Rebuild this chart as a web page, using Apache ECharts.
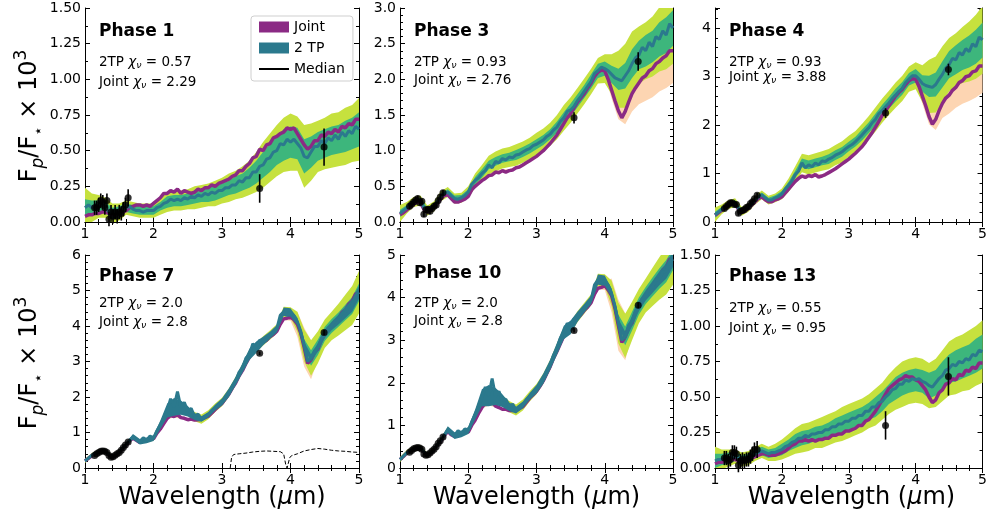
<!DOCTYPE html>
<html>
<head>
<meta charset="utf-8">
<script src="https://cdn.jsdelivr.net/npm/echarts@6/dist/echarts.min.js"></script>
<style>
  html, body { margin: 0; padding: 0; background: #fff; }
  #chart { width: 990px; height: 517px; }
</style>
</head>
<body>
<div id="chart"></div>
<script>
// fine wavelength grid for medians (micron), step 0.05
const wlFine = [1.00,1.05,1.10,1.15,1.20,1.25,1.30,1.35,1.40,1.45,1.50,1.55,1.60,1.65,1.70,1.75,1.80,1.85,1.90,1.95,
  2.00,2.05,2.10,2.15,2.20,2.25,2.30,2.35,2.40,2.45,2.50,2.55,2.60,2.65,2.70,2.75,2.80,2.85,2.90,2.95,
  3.00,3.05,3.10,3.15,3.20,3.25,3.30,3.35,3.40,3.45,3.50,3.55,3.60,3.65,3.70,3.75,3.80,3.85,3.90,3.95,
  4.00,4.05,4.10,4.15,4.20,4.25,4.30,4.35,4.40,4.45,4.50,4.55,4.60,4.65,4.70,4.75,4.80,4.85,4.90,4.95,5.00];
// coarse grid for the credible-interval half widths, step 0.1
const wl = [1.0,1.1,1.2,1.3,1.4,1.5,1.6,1.7,1.8,1.9,
  2.0,2.1,2.2,2.3,2.4,2.5,2.6,2.7,2.8,2.9,
  3.0,3.1,3.2,3.3,3.4,3.5,3.6,3.7,3.8,3.9,
  4.0,4.1,4.2,4.3,4.4,4.5,4.6,4.7,4.8,4.9,
  5.0];

// Phase 1
const tp1 = [0.10,0.12,0.10,0.12,0.11,0.13,0.10,0.07,0.06,0.06,0.07,0.08,0.10,0.11,0.09,0.08,0.08,0.07,0.08,0.08,
  0.08,0.10,0.11,0.13,0.14,0.16,0.15,0.16,0.15,0.17,0.16,0.18,0.17,0.19,0.18,0.20,0.19,0.21,0.20,0.22,
  0.22,0.24,0.24,0.26,0.26,0.29,0.28,0.31,0.31,0.35,0.35,0.39,0.40,0.44,0.45,0.49,0.50,0.55,0.54,0.58,
  0.56,0.58,0.55,0.52,0.46,0.45,0.49,0.53,0.53,0.57,0.55,0.59,0.57,0.61,0.58,0.63,0.60,0.64,0.62,0.67,0.65];
const jt1 = [0.04,0.05,0.05,0.06,0.06,0.07,0.07,0.06,0.05,0.05,0.06,0.07,0.08,0.10,0.11,0.12,0.12,0.11,0.12,0.11,
  0.13,0.15,0.17,0.20,0.20,0.22,0.21,0.23,0.20,0.22,0.21,0.20,0.21,0.23,0.22,0.24,0.24,0.26,0.25,0.27,
  0.28,0.29,0.30,0.32,0.33,0.36,0.36,0.39,0.41,0.45,0.46,0.51,0.50,0.54,0.55,0.59,0.60,0.62,0.63,0.66,
  0.65,0.66,0.62,0.58,0.54,0.51,0.53,0.57,0.57,0.61,0.60,0.63,0.62,0.65,0.63,0.67,0.66,0.69,0.68,0.72,0.72];
const g1 = [0.06,0.05,0.04,0.04,0.04,0.04,0.03,0.03,0.03,0.03,
  0.03,0.03,0.04,0.04,0.04,0.04,0.04,0.04,0.05,0.05,
  0.05,0.05,0.06,0.06,0.07,0.08,0.09,0.10,0.10,0.11,
  0.11,0.11,0.12,0.11,0.10,0.10,0.10,0.10,0.11,0.11,
  0.12];
const y1 = [0.14,0.10,0.08,0.07,0.07,0.06,0.05,0.05,0.05,0.05,
  0.05,0.06,0.07,0.07,0.07,0.07,0.08,0.08,0.08,0.09,
  0.09,0.10,0.10,0.11,0.12,0.14,0.16,0.17,0.18,0.19,
  0.20,0.19,0.22,0.20,0.18,0.18,0.19,0.19,0.20,0.20,
  0.22];

// Phase 3
const tp3 = [0.12,0.16,0.20,0.24,0.28,0.31,0.30,0.20,0.16,0.18,0.22,0.28,0.36,0.40,0.42,0.37,0.33,0.32,0.34,0.37,
  0.42,0.53,0.58,0.62,0.68,0.72,0.80,0.76,0.85,0.83,0.89,0.87,0.91,0.90,0.94,0.95,0.98,1.01,1.03,1.07,
  1.09,1.12,1.15,1.20,1.23,1.29,1.33,1.41,1.46,1.55,1.57,1.62,1.70,1.76,1.83,1.90,1.97,2.08,2.12,2.17,
  2.15,2.12,2.07,2.02,2.00,1.98,2.05,2.12,2.22,2.30,2.34,2.45,2.40,2.52,2.46,2.60,2.56,2.68,2.62,2.78,2.72];
const jt3 = [0.10,0.13,0.17,0.21,0.25,0.28,0.27,0.18,0.14,0.16,0.20,0.26,0.33,0.37,0.38,0.33,0.28,0.28,0.30,0.32,
  0.36,0.45,0.50,0.54,0.58,0.61,0.65,0.66,0.70,0.69,0.72,0.70,0.72,0.73,0.76,0.77,0.80,0.83,0.86,0.89,
  0.92,0.96,1.00,1.05,1.10,1.16,1.22,1.30,1.38,1.46,1.52,1.60,1.68,1.74,1.80,1.88,1.95,2.04,2.10,2.13,
  2.12,2.00,1.85,1.70,1.56,1.46,1.55,1.68,1.80,1.88,1.95,2.02,2.05,2.12,2.15,2.22,2.25,2.30,2.33,2.40,2.40];
const g3 = [0.05,0.04,0.04,0.04,0.04,0.04,0.04,0.04,0.04,0.04,
  0.04,0.05,0.06,0.06,0.06,0.06,0.06,0.07,0.07,0.07,
  0.07,0.07,0.07,0.08,0.08,0.09,0.09,0.09,0.10,0.10,
  0.10,0.12,0.15,0.18,0.20,0.20,0.22,0.22,0.24,0.25,
  0.25];
const y3 = [0.12,0.08,0.07,0.07,0.07,0.07,0.07,0.07,0.07,0.07,
  0.08,0.10,0.12,0.13,0.14,0.14,0.14,0.15,0.15,0.15,
  0.16,0.16,0.16,0.17,0.18,0.18,0.18,0.18,0.18,0.18,
  0.20,0.28,0.40,0.45,0.45,0.40,0.40,0.42,0.45,0.48,
  0.50];
const jo3 = [0.02,0.02,0.02,0.02,0.02,0.02,0.02,0.02,0.02,0.02,
  0.02,0.02,0.02,0.02,0.02,0.02,0.02,0.02,0.02,0.02,
  0.02,0.02,0.02,0.02,0.02,0.02,0.02,0.02,0.02,0.02,
  0.05,0.12,0.12,0.18,0.25,0.30,0.35,0.40,0.42,0.45,
  0.45];

// Phase 4
const tp4 = [0.15,0.20,0.26,0.31,0.36,0.40,0.40,0.28,0.22,0.25,0.30,0.37,0.45,0.52,0.56,0.50,0.45,0.46,0.50,0.53,
  0.58,0.68,0.76,0.85,0.98,1.05,1.22,1.12,1.18,1.14,1.22,1.18,1.26,1.25,1.30,1.33,1.38,1.41,1.45,1.51,
  1.56,1.60,1.66,1.73,1.80,1.88,1.95,2.05,2.12,2.24,2.30,2.38,2.46,2.55,2.62,2.70,2.76,2.88,2.95,3.02,
  3.02,2.95,2.86,2.82,2.80,2.78,2.84,2.95,3.05,3.18,3.25,3.38,3.35,3.50,3.45,3.58,3.52,3.68,3.62,3.82,3.76];
const jt4 = [0.14,0.19,0.24,0.29,0.34,0.38,0.38,0.26,0.20,0.23,0.28,0.35,0.42,0.49,0.52,0.46,0.42,0.42,0.46,0.48,
  0.52,0.60,0.68,0.76,0.84,0.90,0.95,0.92,0.96,0.94,0.98,0.93,0.95,0.98,1.02,1.06,1.10,1.15,1.20,1.25,
  1.30,1.36,1.42,1.49,1.56,1.65,1.75,1.85,1.96,2.08,2.20,2.30,2.40,2.50,2.60,2.68,2.74,2.84,2.92,2.96,
  2.95,2.80,2.60,2.40,2.18,2.02,2.12,2.30,2.45,2.56,2.62,2.72,2.78,2.88,2.92,3.00,3.02,3.10,3.12,3.22,3.22];
const g4 = [0.06,0.05,0.05,0.05,0.05,0.05,0.05,0.05,0.05,0.05,
  0.06,0.07,0.08,0.09,0.09,0.09,0.09,0.10,0.10,0.10,
  0.10,0.10,0.11,0.11,0.12,0.12,0.12,0.13,0.13,0.13,
  0.14,0.17,0.22,0.25,0.27,0.28,0.30,0.31,0.33,0.35,
  0.36];
const y4 = [0.15,0.10,0.09,0.09,0.09,0.09,0.09,0.09,0.09,0.09,
  0.11,0.14,0.17,0.19,0.20,0.20,0.20,0.21,0.21,0.22,
  0.22,0.22,0.23,0.24,0.25,0.25,0.25,0.26,0.26,0.26,
  0.28,0.38,0.55,0.58,0.58,0.55,0.55,0.58,0.62,0.66,
  0.70];
const jo4 = [0.03,0.03,0.03,0.03,0.03,0.03,0.03,0.03,0.03,0.03,
  0.03,0.03,0.03,0.03,0.03,0.03,0.03,0.03,0.03,0.03,
  0.03,0.03,0.03,0.03,0.03,0.03,0.03,0.03,0.03,0.03,
  0.06,0.16,0.16,0.22,0.30,0.38,0.42,0.48,0.52,0.55,
  0.55];

// Phase 7
const tp7 = [0.20,0.28,0.36,0.42,0.46,0.49,0.48,0.38,0.30,0.36,0.45,0.56,0.66,0.78,0.88,0.80,0.74,0.85,0.78,0.90,
  0.84,1.05,1.22,1.40,1.62,1.95,1.72,2.15,1.70,1.85,1.60,1.68,1.45,1.52,1.38,1.45,1.50,1.62,1.70,1.80,
  1.86,2.00,2.12,2.30,2.45,2.70,2.82,3.10,3.20,3.50,3.40,3.60,3.58,3.62,3.74,3.80,3.92,4.30,4.40,4.30,
  4.38,4.30,4.12,3.85,3.45,3.00,3.10,3.30,3.40,3.65,3.78,3.95,4.00,4.15,4.18,4.35,4.38,4.55,4.58,4.85,4.95];
const jt7 = [0.20,0.27,0.35,0.41,0.45,0.48,0.47,0.37,0.30,0.35,0.44,0.55,0.64,0.76,0.84,0.78,0.72,0.80,0.76,0.86,
  0.82,0.98,1.10,1.25,1.40,1.48,1.45,1.50,1.42,1.40,1.36,1.38,1.35,1.36,1.38,1.42,1.46,1.55,1.65,1.74,
  1.82,1.95,2.08,2.25,2.40,2.60,2.75,2.95,3.12,3.30,3.36,3.48,3.54,3.60,3.70,3.76,3.85,4.05,4.20,4.22,
  4.25,4.18,4.05,3.80,3.40,2.95,3.05,3.25,3.35,3.60,3.75,3.90,3.98,4.12,4.20,4.38,4.45,4.62,4.70,4.90,4.95];
const g7 = [0.04,0.04,0.04,0.04,0.04,0.04,0.04,0.04,0.04,0.04,
  0.04,0.05,0.06,0.06,0.06,0.06,0.06,0.06,0.06,0.06,
  0.06,0.06,0.06,0.06,0.07,0.07,0.07,0.07,0.07,0.07,
  0.08,0.12,0.18,0.22,0.22,0.20,0.20,0.20,0.22,0.24,
  0.25];
const y7 = [0.06,0.06,0.06,0.06,0.06,0.06,0.06,0.06,0.06,0.06,
  0.07,0.09,0.12,0.12,0.12,0.12,0.13,0.13,0.13,0.12,
  0.12,0.12,0.12,0.12,0.13,0.13,0.13,0.13,0.13,0.14,
  0.15,0.28,0.45,0.50,0.45,0.40,0.40,0.45,0.50,0.55,
  0.60];
const jo7 = [0.03,0.03,0.03,0.03,0.03,0.03,0.03,0.03,0.03,0.03,
  0.03,0.03,0.03,0.03,0.03,0.03,0.03,0.03,0.03,0.03,
  0.03,0.03,0.03,0.03,0.03,0.03,0.03,0.03,0.03,0.03,
  0.10,0.35,0.55,0.55,0.30,0.20,0.20,0.20,0.20,0.20,
  0.20];
// spread of the noisy 2TP median spectrum
const tn7 = [0.03,0.03,0.03,0.03,0.03,0.03,0.04,0.08,0.08,0.08,
  0.08,0.12,0.20,0.25,0.20,0.15,0.10,0.08,0.08,0.08,
  0.10,0.12,0.12,0.14,0.16,0.16,0.12,0.10,0.10,0.12,
  0.12,0.10,0.10,0.10,0.12,0.12,0.12,0.14,0.16,0.18,
  0.18];
const dashX = [3.12,3.14,3.17,3.25,3.35,3.45,3.55,3.65,3.75,3.85,3.90,3.93,3.95,3.97,3.99,4.02,4.10,4.20,4.30,4.40,4.50,4.60,4.70,4.80,4.90,5.00];
const dashY = [0.00,0.30,0.38,0.40,0.42,0.45,0.47,0.48,0.47,0.46,0.40,0.10,0.00,0.05,0.30,0.35,0.40,0.48,0.52,0.55,0.53,0.50,0.48,0.47,0.45,0.44];

// Phase 10
const tp10 = [0.20,0.28,0.36,0.41,0.45,0.48,0.48,0.38,0.30,0.35,0.44,0.55,0.65,0.78,0.90,0.80,0.76,0.88,0.80,0.92,
  0.88,1.08,1.25,1.45,1.65,1.90,1.70,2.10,1.68,1.80,1.58,1.62,1.44,1.50,1.36,1.42,1.48,1.60,1.68,1.78,
  1.85,1.98,2.10,2.28,2.42,2.65,2.80,3.05,3.18,3.40,3.30,3.50,3.55,3.65,3.75,3.85,3.95,4.30,4.42,4.35,
  4.40,4.30,4.10,3.80,3.40,3.00,3.10,3.35,3.45,3.70,3.80,3.98,4.05,4.20,4.25,4.40,4.45,4.60,4.62,4.85,4.90];
const jt10 = [0.20,0.27,0.35,0.40,0.44,0.47,0.47,0.37,0.30,0.34,0.43,0.54,0.63,0.76,0.86,0.78,0.74,0.82,0.80,0.86,
  0.84,1.00,1.12,1.28,1.42,1.52,1.50,1.55,1.45,1.42,1.38,1.38,1.35,1.35,1.36,1.40,1.44,1.54,1.64,1.72,
  1.80,1.92,2.05,2.22,2.38,2.58,2.74,2.92,3.10,3.24,3.28,3.42,3.52,3.60,3.70,3.78,3.88,4.08,4.22,4.24,
  4.28,4.18,4.05,3.75,3.35,2.95,3.08,3.30,3.40,3.65,3.78,3.95,4.02,4.18,4.25,4.42,4.50,4.65,4.72,4.90,4.92];
const g10 = [0.04,0.04,0.04,0.04,0.04,0.04,0.04,0.04,0.04,0.04,
  0.04,0.05,0.06,0.06,0.06,0.06,0.06,0.06,0.06,0.06,
  0.06,0.06,0.06,0.06,0.07,0.07,0.07,0.07,0.07,0.07,
  0.08,0.12,0.20,0.22,0.22,0.20,0.20,0.22,0.24,0.26,
  0.26];
const y10 = [0.06,0.06,0.06,0.06,0.06,0.06,0.06,0.06,0.06,0.06,
  0.07,0.09,0.12,0.12,0.12,0.12,0.13,0.13,0.13,0.12,
  0.12,0.12,0.12,0.12,0.13,0.13,0.13,0.13,0.13,0.14,
  0.15,0.30,0.48,0.52,0.45,0.40,0.40,0.45,0.50,0.55,
  0.60];
const jo10 = [0.03,0.03,0.03,0.03,0.03,0.03,0.03,0.03,0.03,0.03,
  0.03,0.03,0.03,0.03,0.03,0.03,0.03,0.03,0.03,0.03,
  0.03,0.03,0.03,0.03,0.03,0.03,0.03,0.03,0.03,0.03,
  0.10,0.40,0.60,0.55,0.30,0.20,0.20,0.20,0.20,0.20,
  0.20];
const tn10 = [0.03,0.03,0.03,0.03,0.03,0.03,0.04,0.08,0.08,0.08,
  0.08,0.12,0.20,0.25,0.20,0.15,0.10,0.08,0.08,0.08,
  0.10,0.12,0.12,0.14,0.16,0.16,0.12,0.10,0.10,0.12,
  0.12,0.10,0.10,0.10,0.12,0.12,0.12,0.14,0.16,0.18,
  0.18];

// Phase 13
const tp13 = [0.05,0.06,0.06,0.07,0.07,0.08,0.08,0.07,0.06,0.06,0.07,0.08,0.10,0.11,0.12,0.11,0.10,0.11,0.11,0.12,
  0.13,0.15,0.16,0.18,0.19,0.21,0.21,0.23,0.22,0.24,0.24,0.25,0.25,0.27,0.27,0.29,0.29,0.31,0.31,0.33,
  0.33,0.35,0.35,0.37,0.37,0.40,0.40,0.43,0.43,0.46,0.47,0.50,0.52,0.55,0.56,0.59,0.59,0.62,0.61,0.63,
  0.62,0.63,0.61,0.60,0.58,0.57,0.60,0.63,0.65,0.69,0.70,0.73,0.72,0.75,0.74,0.77,0.76,0.80,0.79,0.83,0.82];
const jt13 = [0.03,0.04,0.04,0.05,0.05,0.06,0.06,0.05,0.05,0.05,0.06,0.07,0.08,0.09,0.10,0.10,0.09,0.09,0.09,0.10,
  0.11,0.12,0.14,0.16,0.17,0.19,0.19,0.20,0.19,0.20,0.19,0.20,0.20,0.21,0.21,0.23,0.23,0.24,0.24,0.26,
  0.26,0.27,0.28,0.30,0.30,0.33,0.34,0.37,0.40,0.44,0.48,0.52,0.56,0.58,0.60,0.62,0.63,0.65,0.64,0.64,
  0.62,0.61,0.58,0.55,0.50,0.46,0.48,0.53,0.55,0.59,0.60,0.63,0.62,0.66,0.65,0.69,0.68,0.71,0.70,0.74,0.74];
const g13 = [0.05,0.04,0.04,0.03,0.03,0.03,0.03,0.03,0.03,0.03,
  0.04,0.04,0.05,0.05,0.05,0.05,0.05,0.05,0.06,0.06,
  0.06,0.06,0.06,0.06,0.07,0.07,0.07,0.08,0.08,0.08,
  0.08,0.08,0.09,0.09,0.10,0.10,0.11,0.11,0.11,0.12,
  0.12];
const y13 = [0.10,0.07,0.06,0.05,0.05,0.05,0.05,0.05,0.05,0.06,
  0.07,0.08,0.09,0.10,0.10,0.10,0.11,0.11,0.11,0.12,
  0.12,0.12,0.12,0.12,0.13,0.13,0.14,0.15,0.16,0.16,
  0.16,0.16,0.16,0.17,0.18,0.19,0.20,0.20,0.21,0.21,
  0.22];

// observed eclipse depths
const wfcX = [1.14,1.17,1.20,1.23,1.26,1.29,1.32,1.35,1.38,1.41,1.44,1.47,1.50,1.53,1.56,1.59,1.63];
const spzX = [3.55,4.49];
const obs1 = [0.10,0.10,0.12,0.15,0.14,0.10,0.15,0.02,0.07,0.04,0.07,0.04,0.07,0.06,0.09,0.12,0.17];
const err1 = [0.05,0.05,0.05,0.05,0.05,0.05,0.05,0.05,0.05,0.05,0.05,0.05,0.05,0.05,0.05,0.05,0.06];
const spz1 = [0.235,0.525], spzErr1 = [0.10,0.13];
const obs3 = [0.22,0.25,0.28,0.31,0.33,0.27,0.29,0.11,0.17,0.18,0.15,0.19,0.22,0.24,0.30,0.35,0.41];
const err3 = [0.04,0.04,0.04,0.04,0.04,0.04,0.04,0.04,0.04,0.04,0.04,0.04,0.04,0.04,0.04,0.04,0.04];
const spz3 = [1.46,2.25], spzErr3 = [0.08,0.13];
const obs4 = [0.28,0.32,0.36,0.40,0.40,0.36,0.36,0.18,0.22,0.24,0.26,0.30,0.32,0.38,0.42,0.48,0.55];
const err4 = [0.05,0.05,0.05,0.05,0.05,0.05,0.05,0.05,0.05,0.05,0.05,0.05,0.05,0.05,0.05,0.05,0.05];
const spz4 = [2.25,3.15], spzErr4 = [0.10,0.12];
const obs7 = [0.35,0.40,0.44,0.47,0.48,0.47,0.44,0.35,0.30,0.32,0.36,0.40,0.44,0.50,0.58,0.65,0.73];
const err7 = [0.03,0.03,0.03,0.03,0.03,0.03,0.03,0.03,0.03,0.03,0.03,0.03,0.03,0.03,0.03,0.03,0.03];
const spz7 = [3.23,3.82], spzErr7 = [0.05,0.07];
const obs10 = [0.37,0.41,0.45,0.47,0.48,0.47,0.44,0.33,0.30,0.31,0.35,0.40,0.44,0.50,0.58,0.64,0.73];
const err10 = [0.03,0.03,0.03,0.03,0.03,0.03,0.03,0.03,0.03,0.03,0.03,0.03,0.03,0.03,0.03,0.03,0.03];
const spz10 = [3.23,3.82], spzErr10 = [0.05,0.07];
const obs13 = [0.07,0.07,0.05,0.06,0.11,0.11,0.10,0.02,0.05,0.06,0.05,0.06,0.06,0.08,0.10,0.13,0.13];
const err13 = [0.05,0.05,0.05,0.05,0.05,0.05,0.05,0.05,0.05,0.05,0.05,0.05,0.05,0.05,0.05,0.05,0.06];
const spz13 = [0.30,0.645], spzErr13 = [0.10,0.135];

// axes ticks and panel labels
const titles = ['Phase 1', 'Phase 3', 'Phase 4', 'Phase 7', 'Phase 10', 'Phase 13'];
const chi2TP = ['0.57', '0.93', '0.93', '2.0', '2.0', '0.55'];
const chiJoint = ['2.29', '2.76', '3.88', '2.8', '2.8', '0.95'];
const yMax = [1.5, 3.0, 4.42, 6, 5, 1.5];
const yStep = [0.25, 0.5, 1, 1, 1, 0.25];
const yDec = [2, 1, 0, 0, 0, 2];
const yMinor = [2, 5, 5, 5, 5, 2];

const PURPLE = '#8b2a84', TEAL = '#2b798d', GREEN = '#3db67c', YELLOW = '#c6e13e', PEACH = '#fdd5b2';
const FONT = 'DejaVu Sans';

const panels = [
  { tp: tp1, jt: jt1, g: g1, y: y1, jo: null, tn: null, obs: obs1, err: err1, spz: spz1, spzErr: spzErr1 },
  { tp: tp3, jt: jt3, g: g3, y: y3, jo: jo3, tn: null, obs: obs3, err: err3, spz: spz3, spzErr: spzErr3 },
  { tp: tp4, jt: jt4, g: g4, y: y4, jo: jo4, tn: null, obs: obs4, err: err4, spz: spz4, spzErr: spzErr4 },
  { tp: tp7, jt: jt7, g: g7, y: y7, jo: jo7, tn: tn7, obs: obs7, err: err7, spz: spz7, spzErr: spzErr7 },
  { tp: tp10, jt: jt10, g: g10, y: y10, jo: jo10, tn: tn10, obs: obs10, err: err10, spz: spz10, spzErr: spzErr10 },
  { tp: tp13, jt: jt13, g: g13, y: y13, jo: null, tn: null, obs: obs13, err: err13, spz: spz13, spzErr: spzErr13 }
];

// layout (px)
const gridBoxes = [
  { left: 85, top: 8, width: 274, height: 214 },
  { left: 400, top: 8, width: 273, height: 214 },
  { left: 715, top: 8, width: 273, height: 214 },
  { left: 85, top: 255, width: 274, height: 213 },
  { left: 400, top: 255, width: 273, height: 213 },
  { left: 715, top: 255, width: 273, height: 213 }
];
const textY = [[32, 62, 82], [32, 62, 80], [32, 62, 77], [277, 303, 322], [274, 303, 321], [277, 308, 328]];

const chart = echarts.init(document.getElementById('chart'));

const tickLine = { color: '#000', width: 1 };
function xAxes(p) {
  const base = {
    type: 'value', gridIndex: p, min: 1, max: 5, interval: 1,
    axisLine: { lineStyle: tickLine },
    axisTick: { inside: true, length: 5, lineStyle: tickLine },
    minorTick: { show: true, splitNumber: 5, length: 3, lineStyle: tickLine },
    splitLine: { show: false }
  };
  return [
    Object.assign({}, base, {
      position: 'bottom',
      axisLabel: { color: '#000', fontSize: 14, fontFamily: FONT, margin: 5, showMinLabel: true, showMaxLabel: true }
    }),
    Object.assign({}, base, { position: 'top', axisLabel: { show: false } })
  ];
}
function yAxes(p) {
  const step = yStep[p];
  const base = {
    type: 'value', gridIndex: p, min: 0, max: yMax[p], interval: step,
    axisLine: { lineStyle: tickLine },
    axisTick: { inside: true, length: 5, lineStyle: tickLine },
    minorTick: { show: true, splitNumber: yMinor[p], length: 3, lineStyle: tickLine },
    splitLine: { show: false }
  };
  return [
    Object.assign({}, base, {
      position: 'left',
      axisLabel: {
        color: '#000', fontSize: 14, fontFamily: FONT, margin: 4,
        formatter: (v) => Math.abs(v / step - Math.round(v / step)) < 1e-6 ? v.toFixed(yDec[p]) : ''
      }
    }),
    Object.assign({}, base, { position: 'right', axisLabel: { show: false } })
  ];
}

// filled credible interval, built on the coarse grid
function band(p, mid, half, color, z) {
  return {
    type: 'custom', xAxisIndex: p * 2, yAxisIndex: p * 2, z, silent: true, clip: true,
    data: [[wl[0], mid[0]]],
    renderItem: (params, api) => {
      const pts = [];
      for (let i = 0; i < wl.length; i++) pts.push(api.coord([wl[i], mid[2 * i] + half[i]]));
      for (let i = wl.length - 1; i >= 0; i--) pts.push(api.coord([wl[i], mid[2 * i] - half[i]]));
      return { type: 'polygon', shape: { points: pts }, style: { fill: color } };
    }
  };
}
function medianLine(p, mid, color, width, z) {
  return {
    type: 'line', xAxisIndex: p * 2, yAxisIndex: p * 2, z, silent: true,
    showSymbol: false, symbol: 'none',
    lineStyle: { color, width },
    data: wlFine.map((x, i) => [x, mid[i]])
  };
}
function errorBars(p, xs, ys, es) {
  return {
    type: 'custom', xAxisIndex: p * 2, yAxisIndex: p * 2, z: 8, silent: true,
    data: xs.map((x, i) => [x, ys[i], es[i]]),
    renderItem: (params, api) => {
      const x = api.value(0), y = api.value(1), e = api.value(2);
      const a = api.coord([x, y - e]), b = api.coord([x, y + e]);
      return { type: 'line', shape: { x1: a[0], y1: a[1], x2: b[0], y2: b[1] }, style: { stroke: '#000', lineWidth: 1.6 } };
    }
  };
}
function points(p, xs, ys) {
  return {
    type: 'scatter', xAxisIndex: p * 2, yAxisIndex: p * 2, z: 9, silent: true,
    symbolSize: 7, itemStyle: { color: '#000' },
    data: xs.map((x, i) => [x, ys[i]])
  };
}

const grid = [], xAxis = [], yAxis = [], series = [], graphic = [];
panels.forEach((d, p) => {
  grid.push(Object.assign({ containLabel: false }, gridBoxes[p]));
  xAxis.push(...xAxes(p));
  yAxis.push(...yAxes(p));
  if (d.jo) series.push(band(p, d.jt, d.jo, PEACH, 1));
  series.push(band(p, d.tp, d.y, YELLOW, 2));
  series.push(band(p, d.tp, d.g, GREEN, 3));
  series.push(medianLine(p, d.jt, PURPLE, 3.5, 4));
  if (d.tn) series.push(band(p, d.tp, d.tn, TEAL, 5));
  series.push(medianLine(p, d.tp, TEAL, 3, 5));
  series.push(errorBars(p, wfcX, d.obs, d.err));
  series.push(errorBars(p, spzX, d.spz, d.spzErr));
  series.push(points(p, wfcX, d.obs));
  series.push(points(p, spzX, d.spz));

  const gb = gridBoxes[p];
  const tx = gb.left + 14;
  graphic.push({
    type: 'text', x: tx, y: textY[p][0],
    style: { text: titles[p], font: 'bold 17px "DejaVu Sans"', fill: '#000', textVerticalAlign: 'middle' }
  });
  const chiRich = {
    t: { fontSize: 13.5, fontFamily: FONT, fill: '#000', lineHeight: 18 },
    c: { fontSize: 13.5, fontFamily: FONT, fontStyle: 'italic', fill: '#000', lineHeight: 18 },
    s: { fontSize: 9.5, fontFamily: FONT, fontStyle: 'italic', fill: '#000', verticalAlign: 'bottom', lineHeight: 18 }
  };
  graphic.push({
    type: 'text', x: tx, y: textY[p][1],
    style: { text: '{t|2TP }{c|χ}{s|ν}{t| = ' + chi2TP[p] + '}', rich: chiRich, textVerticalAlign: 'middle' }
  });
  graphic.push({
    type: 'text', x: tx, y: textY[p][2],
    style: { text: '{t|Joint }{c|χ}{s|ν}{t| = ' + chiJoint[p] + '}', rich: chiRich, textVerticalAlign: 'middle' }
  });
  if (p >= 3) {
    graphic.push({
      type: 'text', x: gb.left + gb.width / 2, y: 498,
      style: {
        text: '{a|Wavelength (}{m|μ}{a|m)}',
        rich: {
          a: { fontSize: 24, fontFamily: FONT, fill: '#000' },
          m: { fontSize: 24, fontFamily: FONT, fontStyle: 'italic', fill: '#000' }
        },
        textAlign: 'center', textVerticalAlign: 'middle'
      }
    });
  }
});

// Spitzer bandpass (dashed) in Phase 7
series.push({
  type: 'line', xAxisIndex: 6, yAxisIndex: 6, z: 6, silent: true, symbol: 'none',
  lineStyle: { color: '#000', width: 1, type: [4, 2] },
  data: dashX.map((x, i) => [x, dashY[i]])
});

// y-axis titles
const yTitleRich = {
  a: { fontSize: 24, fontFamily: FONT, fill: '#000', lineHeight: 34 },
  s: { fontSize: 17, fontFamily: FONT, fontStyle: 'italic', fill: '#000', verticalAlign: 'bottom', lineHeight: 34 },
  k: { fontSize: 15, fontFamily: FONT, fill: '#000', verticalAlign: 'bottom', lineHeight: 34 },
  u: { fontSize: 17, fontFamily: FONT, fill: '#000', verticalAlign: 'top', lineHeight: 34 }
};
[116, 363].forEach((cy) => {
  graphic.push({
    type: 'text', x: 30, y: cy, rotation: Math.PI / 2,
    style: { text: '{a|F}{s|p}{a|/F}{k|⋆}{a| × 10}{u|3}', rich: yTitleRich, textAlign: 'center', textVerticalAlign: 'middle' }
  });
});

// legend entries
series.push({ name: 'Joint', type: 'custom', xAxisIndex: 0, yAxisIndex: 0, data: [], renderItem: () => null, itemStyle: { color: PURPLE } });
series.push({ name: '2 TP', type: 'custom', xAxisIndex: 0, yAxisIndex: 0, data: [], renderItem: () => null, itemStyle: { color: TEAL } });
series.push({ name: 'Median', type: 'line', xAxisIndex: 0, yAxisIndex: 0, data: [], symbol: 'none', itemStyle: { color: '#000' }, lineStyle: { color: '#000', width: 2 } });

chart.setOption({
  animation: false,
  backgroundColor: '#fff',
  textStyle: { fontFamily: FONT },
  grid, xAxis, yAxis, series, graphic,
  legend: {
    left: 251, top: 16, orient: 'vertical', selectedMode: false,
    padding: [4, 8, 5, 7], itemGap: 7, itemWidth: 30, itemHeight: 11,
    borderColor: '#cfcfcf', borderWidth: 1, borderRadius: 3, backgroundColor: 'rgba(255,255,255,0.85)',
    textStyle: { fontSize: 14, fontFamily: FONT, color: '#000' },
    data: [
      { name: 'Joint', icon: 'rect' },
      { name: '2 TP', icon: 'rect' },
      { name: 'Median', itemStyle: { opacity: 0 } }
    ]
  }
});
window.addEventListener('resize', () => chart.resize());
</script>
</body>
</html>
